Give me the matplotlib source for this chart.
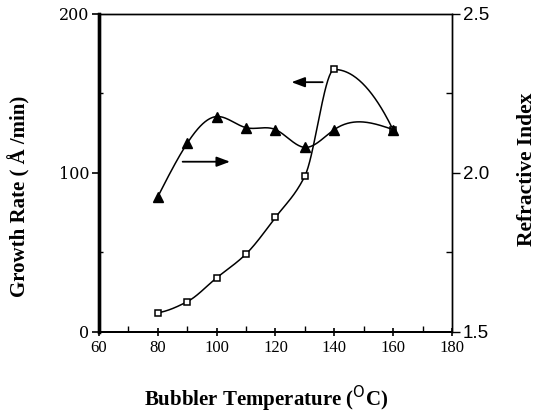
import numpy as np
import matplotlib.pyplot as plt
from matplotlib.ticker import MultipleLocator, FixedLocator

# bubbler temperature (C)
temp = np.array([80, 90, 100, 110, 120, 130, 140, 160])
# growth rate (A/min), open squares, left axis
rate = np.array([12, 19, 34, 49, 72, 98, 165, 127])
# refractive index, filled triangles, right axis
ri_temp = np.array([80, 90, 100, 110, 120, 130, 140, 160])
ri = np.array([1.925, 2.093, 2.177, 2.142, 2.136, 2.080, 2.136, 2.136])


def natural_spline(x, y, n=300):
    # natural cubic spline for a smooth line through the points
    x = np.asarray(x, float)
    y = np.asarray(y, float)
    m = len(x)
    h = np.diff(x)
    A = np.zeros((m, m))
    r = np.zeros(m)
    A[0, 0] = A[-1, -1] = 1
    for i in range(1, m - 1):
        A[i, i - 1] = h[i - 1]
        A[i, i] = 2 * (h[i - 1] + h[i])
        A[i, i + 1] = h[i]
        r[i] = 3 * ((y[i + 1] - y[i]) / h[i] - (y[i] - y[i - 1]) / h[i - 1])
    c = np.linalg.solve(A, r)
    b = (y[1:] - y[:-1]) / h - h * (2 * c[:-1] + c[1:]) / 3
    d = (c[1:] - c[:-1]) / (3 * h)
    xs = np.linspace(x[0], x[-1], n)
    k = np.clip(np.searchsorted(x, xs) - 1, 0, m - 2)
    t = xs - x[k]
    ys = y[k] + b[k] * t + c[k] * t ** 2 + d[k] * t ** 3
    return xs, ys


def pchip(x, y, n=300):
    # monotone cubic (Fritsch-Carlson), no overshoot at the peak
    x = np.asarray(x, float)
    y = np.asarray(y, float)
    h = np.diff(x)
    s = np.diff(y) / h
    m = np.zeros(len(x))
    for i in range(1, len(x) - 1):
        if s[i - 1] * s[i] > 0:
            w1 = 2 * h[i] + h[i - 1]
            w2 = h[i] + 2 * h[i - 1]
            m[i] = (w1 + w2) / (w1 / s[i - 1] + w2 / s[i])
    m[0] = ((2 * h[0] + h[1]) * s[0] - h[0] * s[1]) / (h[0] + h[1])
    m[-1] = ((2 * h[-1] + h[-2]) * s[-1] - h[-1] * s[-2]) / (h[-1] + h[-2])
    for j, sj in ((0, s[0]), (-1, s[-1])):
        if np.sign(m[j]) != np.sign(sj):
            m[j] = 0
        elif abs(m[j]) > 2 * abs(sj):
            m[j] = 2 * sj
    xs = np.linspace(x[0], x[-1], n)
    k = np.clip(np.searchsorted(x, xs) - 1, 0, len(x) - 2)
    t = (xs - x[k]) / h[k]
    h00 = 2 * t ** 3 - 3 * t ** 2 + 1
    h10 = t ** 3 - 2 * t ** 2 + t
    h01 = -2 * t ** 3 + 3 * t ** 2
    h11 = t ** 3 - t ** 2
    ys = h00 * y[k] + h10 * h[k] * m[k] + h01 * y[k + 1] + h11 * h[k] * m[k + 1]
    return xs, ys


serif = 'Liberation Serif'
sans = 'Liberation Sans'

fig = plt.figure(figsize=(5.38, 4.18), dpi=100)
ax = fig.add_axes([0.184, 0.206, 0.656, 0.761])
ax2 = ax.twinx()

xs, ys = pchip(temp, rate)
ax.plot(xs, ys, color='black', lw=1.1)
ax.plot(temp, rate, 's', ms=4.5, mfc='white', mec='black', mew=1.1)

xs2, ys2 = natural_spline(ri_temp, ri)
ax2.plot(xs2, ys2, color='black', lw=1.1)
ax2.plot(ri_temp, ri, '^', ms=6.5, color='black')

# arrows pointing to each curve's axis
ax.annotate('', xy=(105.5, 107), xytext=(87.5, 107),
            arrowprops=dict(arrowstyle='-|>,head_length=0.8,head_width=0.3',
                            color='black', lw=1.3))
ax.annotate('', xy=(124.5, 157), xytext=(137, 157),
            arrowprops=dict(arrowstyle='-|>,head_length=0.8,head_width=0.3',
                            color='black', lw=1.3))

ax.set_xlim(60, 180)
ax.set_ylim(0, 200)
ax2.set_ylim(1.5, 2.5)

ax.xaxis.set_major_locator(MultipleLocator(20))
ax.xaxis.set_minor_locator(MultipleLocator(10))
ax.yaxis.set_major_locator(FixedLocator([0, 100, 200]))
ax.yaxis.set_minor_locator(FixedLocator([50, 150]))
ax2.yaxis.set_major_locator(FixedLocator([1.5, 2.0, 2.5]))
ax2.yaxis.set_minor_locator(FixedLocator([1.75, 2.25]))

ax.tick_params(axis='x', which='major', direction='inout', length=6, width=1.2,
               labelsize=12, pad=3)
ax.tick_params(axis='x', which='minor', direction='in', length=4, width=1)
ax.tick_params(axis='y', which='major', direction='out', length=5, width=1.2,
               labelsize=11.5, pad=2)
ax.tick_params(axis='y', which='minor', direction='in', length=3, width=1)
ax2.tick_params(axis='y', which='major', direction='out', length=6, width=1,
                pad=2)
ax2.tick_params(axis='y', which='minor', direction='in', length=4, width=1)

for lab in ax.get_xticklabels():
    lab.set_fontfamily(serif)
for lab in ax.get_yticklabels():
    lab.set_fontfamily('DejaVu Serif')
ax2.set_yticklabels(['1.5', '2.0', '2.5'], fontfamily=sans, fontsize=13.5)

for a in (ax, ax2):
    a.spines['left'].set_linewidth(2.4)
    a.spines['bottom'].set_linewidth(1.4)
    a.spines['top'].set_linewidth(1.0)
    a.spines['right'].set_linewidth(1.0)

ax.set_xlabel('Bubbler Temperature ($^{\\rm O}$C)', fontfamily=serif,
              fontweight='bold', fontsize=15)
ax.set_ylabel('Growth Rate ( Å /min)', fontfamily=serif, fontweight='bold',
              fontsize=15)
ax2.set_ylabel('Refractive Index', fontfamily=serif, fontweight='bold',
               fontsize=15.5)
ax.xaxis.set_label_coords(0.474, -0.162)
ax.yaxis.set_label_coords(-0.193, 0.426)
ax2.yaxis.set_label_coords(1.185, 0.51)

fig.savefig('out.png', dpi=100)
